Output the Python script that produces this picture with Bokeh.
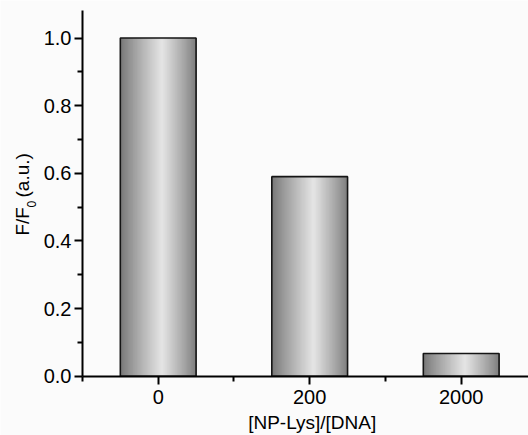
import numpy as np
from bokeh.plotting import figure
from bokeh.models import FixedTicker, Label, Range1d, NumeralTickFormatter, LinearAxis
from bokeh.embed import file_html
from bokeh.resources import INLINE

# ---- data ----
categories = ["0", "200", "2000"]          # [NP-Lys]/[DNA]
ratio = [1.0, 0.59, 0.067]                 # F/F0 (a.u.)
y_ticks = [0.0, 0.2, 0.4, 0.6, 0.8, 1.0]
y_minor = [0.1, 0.3, 0.5, 0.7, 0.9]
x_label = "[NP-Lys]/[DNA]"

BAR_W = 0.5
N_STRIPS = 60
FONT = "Liberation Sans"
BG = "#fbfbfb"

X0, X1 = -0.0409, 3.4443
Y0, Y1 = -0.1753, 1.1109

p = figure(width=528, height=435, output_backend="svg", toolbar_location=None,
           x_range=Range1d(X0, X1), y_range=Range1d(Y0, Y1),
           min_border_left=0, min_border_right=0, min_border_top=0,
           min_border_bottom=0, x_axis_location=None, y_axis_location=None)
p.background_fill_color = BG
p.border_fill_color = BG
p.outline_line_color = None
p.xgrid.visible = False
p.ygrid.visible = False


def shade(t):
    peak = 0.55
    d = abs(t - peak) / (peak if t < peak else 1 - peak)
    lo = 118 if t < peak else 124
    v = lo + (229 - lo) * (1 - d) ** 0.9
    v = int(round(v))
    return "#%02x%02x%02x" % (v, v, v)


xs = [i + 1 for i in range(len(ratio))]
lefts, rights, tops, colors = [], [], [], []
for xc, val in zip(xs, ratio):
    x0 = xc - BAR_W / 2
    for k in range(N_STRIPS):
        t = (k + 0.5) / N_STRIPS
        lefts.append(x0 + k * BAR_W / N_STRIPS)
        rights.append(xc + BAR_W / 2)
        tops.append(val)
        colors.append(shade(t))

p.quad(left=lefts, right=rights, top=tops, bottom=0, fill_color=colors,
       line_color=None)

p.quad(left=[x - BAR_W / 2 for x in xs], right=[x + BAR_W / 2 for x in xs],
       top=ratio, bottom=0, fill_color=None, line_color="#151515",
       line_width=1.6)

# ---- axes (fixed at data locations) ----
xaxis = LinearAxis(fixed_location=0, bounds=(0.5, X1))
yaxis = LinearAxis(fixed_location=0.5, bounds=(0, 1.0813))
p.add_layout(xaxis, "below")
p.add_layout(yaxis, "left")

for ax in (xaxis, yaxis):
    ax.axis_line_width = 2
    ax.axis_line_color = "black"
    ax.major_tick_line_width = 2
    ax.minor_tick_line_width = 2
    ax.major_tick_line_color = "black"
    ax.minor_tick_line_color = "black"
    ax.major_tick_in = 0
    ax.minor_tick_in = 0
    ax.major_tick_out = 8
    ax.minor_tick_out = 5
    ax.major_label_text_font = FONT
    ax.major_label_text_font_size = "20px"
    ax.major_label_text_color = "black"

xaxis.ticker = FixedTicker(ticks=xs, minor_ticks=[0.5, 1.5, 2.5, 3.5])
xaxis.major_label_overrides = {x: c for x, c in zip(xs, categories)}
xaxis.major_label_standoff = 6

yaxis.ticker = FixedTicker(ticks=y_ticks, minor_ticks=y_minor)
yaxis.formatter = NumeralTickFormatter(format="0.0")
yaxis.major_label_standoff = 3

# ---- axis titles ----
p.add_layout(Label(x=2.0165, y=-0.136, text=x_label, text_font=FONT,
                   text_font_size="19px", text_align="center",
                   text_baseline="middle", text_color="black"))
p.add_layout(Label(x=0.103, y=0.416, text="F/F", angle=np.pi / 2,
                   text_font=FONT, text_font_size="19px", text_align="left",
                   text_baseline="middle", text_color="black"))
p.add_layout(Label(x=0.1657, y=0.4988, text="0", angle=np.pi / 2,
                   text_font=FONT, text_font_size="12px", text_align="left",
                   text_baseline="middle", text_color="black"))
p.add_layout(Label(x=0.103, y=0.5284, text="(a.u.)", angle=np.pi / 2,
                   text_font=FONT, text_font_size="19px", text_align="left",
                   text_baseline="middle", text_color="black"))

open("out.html", "w").write(file_html(p, INLINE))
